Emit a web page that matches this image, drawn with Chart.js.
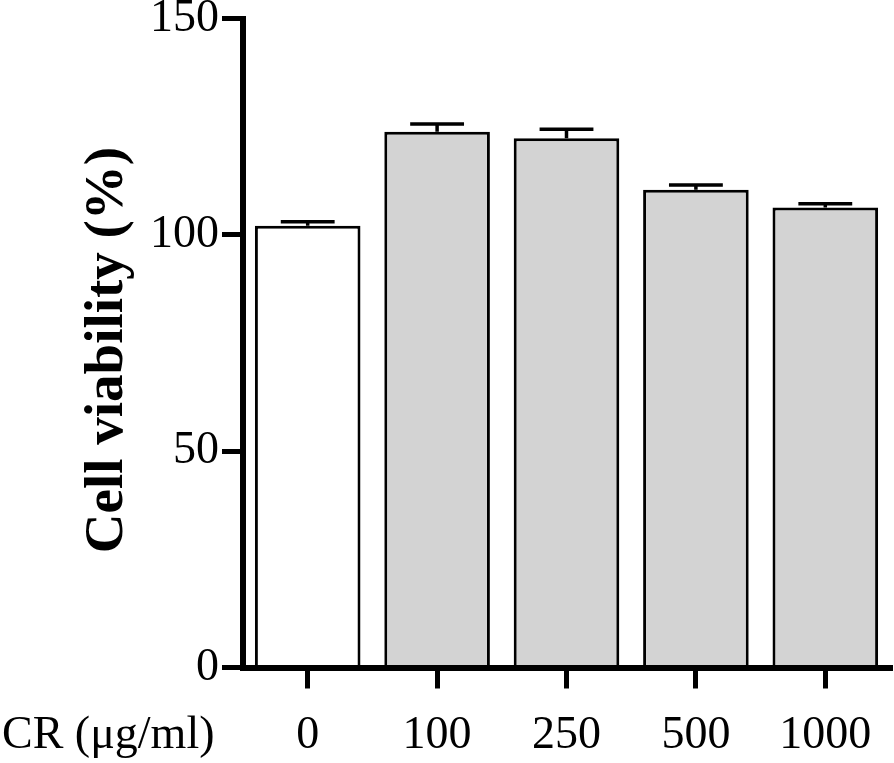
<!DOCTYPE html>
<html>
<head>
<meta charset="utf-8">
<script src="https://cdn.jsdelivr.net/npm/chart.js@4.4.1/dist/chart.umd.min.js"></script>
<style>
  html, body { margin: 0; padding: 0; background: #ffffff; }
  #wrap { width: 894px; height: 763px; position: relative; }
</style>
</head>
<body>
<div id="wrap"><canvas id="c" width="894" height="763"></canvas></div>
<script>
// ---- data ----
const categories = ["0", "100", "250", "500", "1000"];
const viability = [102.1, 123.8, 122.3, 110.4, 106.3];
const errors = [0.9, 1.8, 2.1, 1.1, 0.9];
const barColors = ["#ffffff", "#d3d3d3", "#d3d3d3", "#d3d3d3", "#d3d3d3"];
const yTicks = [0, 50, 100, 150];
const xAxisLabel = "CR (\u03bcg/ml)";
const yAxisLabel = "Cell viability (%)";

const FONT = "'Liberation Serif', 'Times New Roman', serif";

const errorBarPlugin = {
  id: 'errorBars',
  afterDatasetsDraw(chart) {
    const ctx = chart.ctx;
    const meta = chart.getDatasetMeta(0);
    const y = chart.scales.y;
    ctx.save();
    ctx.strokeStyle = '#000';
    ctx.lineWidth = 3.5;
    meta.data.forEach((bar, i) => {
      const top = y.getPixelForValue(viability[i]);
      const hi = y.getPixelForValue(viability[i] + errors[i]);
      const half = bar.width * 0.255;
      ctx.beginPath();
      ctx.moveTo(bar.x, top);
      ctx.lineTo(bar.x, hi);
      ctx.moveTo(bar.x - half, hi);
      ctx.lineTo(bar.x + half, hi);
      ctx.stroke();
    });
    ctx.restore();
  }
};

const labelsPlugin = {
  id: 'axisLabels',
  afterDraw(chart) {
    const ctx = chart.ctx;
    const xs = chart.scales.x;
    const ca = chart.chartArea;
    ctx.save();
    ctx.fillStyle = '#000';
    ctx.font = "46px " + FONT;
    ctx.textAlign = 'left';
    ctx.textBaseline = 'middle';
    ctx.fillText(xAxisLabel, 2, xs.top + 21 + 20 + 46 * 1.2 / 2);
    ctx.font = "bold 55px " + FONT;
    ctx.textAlign = 'center';
    ctx.translate(108, (ca.top + ca.bottom) / 2 + 7);
    ctx.rotate(-Math.PI / 2);
    ctx.fillText(yAxisLabel, 0, 0);
    ctx.restore();
  }
};

new Chart(document.getElementById('c'), {
  type: 'bar',
  data: {
    labels: categories,
    datasets: [{
      data: viability,
      backgroundColor: barColors,
      borderColor: '#000',
      borderWidth: 3,
      borderSkipped: 'start',
      barPercentage: 0.816,
      categoryPercentage: 1.0
    }]
  },
  options: {
    responsive: false,
    animation: false,
    devicePixelRatio: 1,
    layout: { padding: { top: 18.5, right: 4, left: 0, bottom: 0 } },
    plugins: { legend: { display: false }, tooltip: { enabled: false } },
    scales: {
      x: {
        offset: true,
        grid: { display: true, offset: false, drawOnChartArea: false, drawTicks: true,
                tickLength: 21, tickWidth: 5, tickColor: '#000', lineWidth: 5, color: '#000' },
        border: { display: true, color: '#000', width: 6 },
        ticks: { color: '#000', padding: 20, font: { family: FONT, size: 46 }, maxRotation: 0 },
        afterFit(scale) { scale.height = 95.5; }
      },
      y: {
        min: 0, max: 150,
        afterBuildTicks(scale) { scale.ticks = yTicks.map(v => ({ value: v })); },
        grid: { display: true, drawOnChartArea: false, drawTicks: true,
                tickLength: 21, tickWidth: 5, tickColor: '#000', lineWidth: 5, color: '#000' },
        border: { display: true, color: '#000', width: 6 },
        ticks: { color: '#000', padding: 3, font: { family: FONT, size: 46, lineHeight: 0.5 } },
        title: { display: false },
        afterFit(scale) { scale.width = 243; }
      }
    }
  },
  plugins: [errorBarPlugin, labelsPlugin]
});
</script>
</body>
</html>
